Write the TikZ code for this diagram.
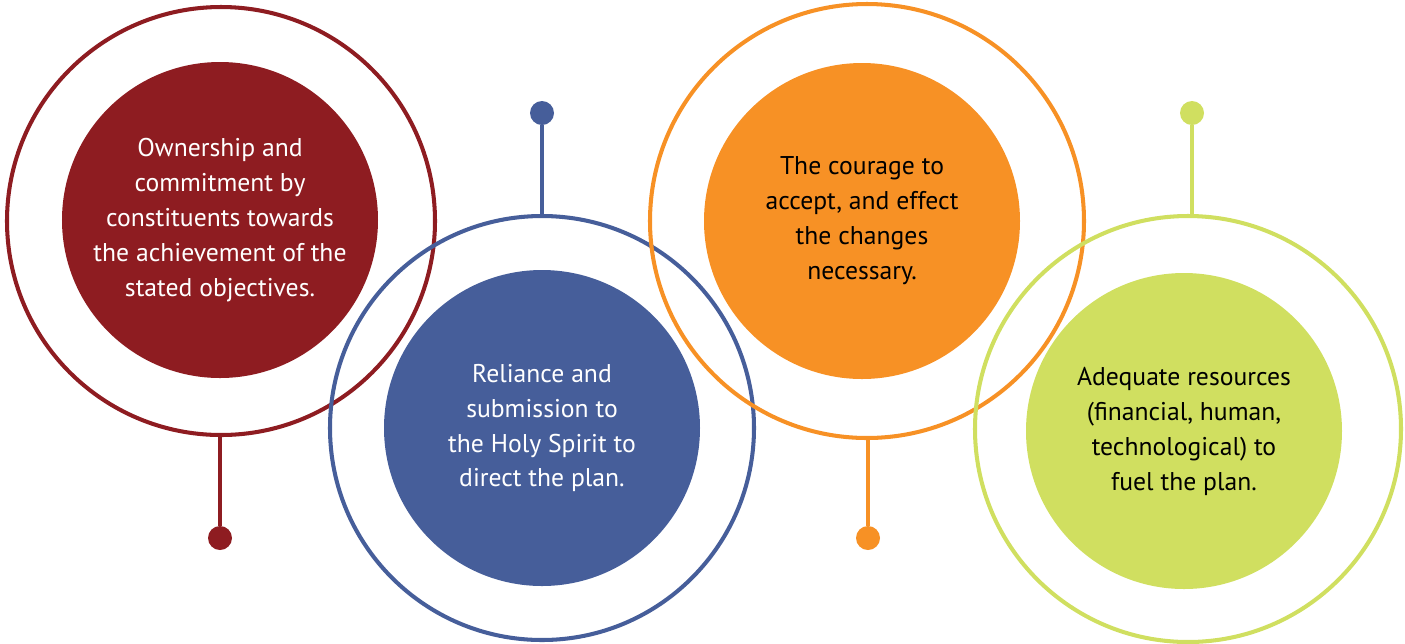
\documentclass[tikz,border=0pt]{standalone}
\usepackage{fontspec}
\setmainfont{PT Sans}
\usepackage{xcolor}
\definecolor{wine}{RGB}{142,28,33}
\definecolor{navy}{RGB}{70,94,154}
\definecolor{tangerine}{RGB}{247,145,37}
\definecolor{lime}{RGB}{208,223,96}
\usepackage{tikz}
\usetikzlibrary{positioning, calc}

\begin{document}
\begin{tikzpicture}[
        ring/.style={circle, draw=#1, line width=2.3pt, minimum size=8.5cm, inner sep=0pt},
        core/.style={circle, fill=#1, minimum size=6.32cm, inner sep=0pt, align=center,
            font=\fontsize{14.6}{19.9}\selectfont},
        knob/.style={circle, fill=#1, minimum size=0.48cm, inner sep=0pt},
        stem/.style={draw=#1, line width=2.4pt}
    ]
        \useasboundingbox (0,0) rectangle (28.1,-12.86);

        \node[ring=wine, minimum size=8.56cm] (ownring) at (4.42,-4.42) {};
        \node[ring=navy, minimum size=8.48cm] (relring) at (10.84,-8.56) {};
        \node[ring=tangerine, minimum size=8.68cm] (couring) at (17.34,-4.42) {};
        \node[ring=lime, minimum size=8.52cm] (resring) at (23.76,-8.58) {};

        \node[core=wine, text=white] (owncore) at (4.40,-4.40) {Ownership and\\commitment by\\constituents towards\\the achievement of the\\stated objectives.};
        \node[core=navy, text=white] (relcore) at (10.84,-8.56) {Reliance and\\submission to\\the Holy Spirit to\\direct the plan.};
        \node[core=tangerine, text=black] (coucore) at (17.24,-4.42) {The courage to\\accept, and effect\\the changes\\necessary.};
        \node[core=lime, text=black] (rescore) at (23.68,-8.62) {Adequate resources\\(financial, human,\\technological) to\\fuel the plan.};

        \node[knob=wine] (owndot) at (4.40,-10.76) {};
        \node[knob=navy] (reldot) at (10.84,-2.26) {};
        \node[knob=tangerine] (coudot) at (17.36,-10.76) {};
        \node[knob=lime] (resdot) at (23.84,-2.26) {};

        \draw[stem=wine] (ownring.south -| owndot) -- (owndot);
        \draw[stem=navy] (relring.north -| reldot) -- (reldot);
        \draw[stem=tangerine] (couring.south -| coudot) -- (coudot);
        \draw[stem=lime] (resring.north -| resdot) -- (resdot);
    \end{tikzpicture}
\end{document}
